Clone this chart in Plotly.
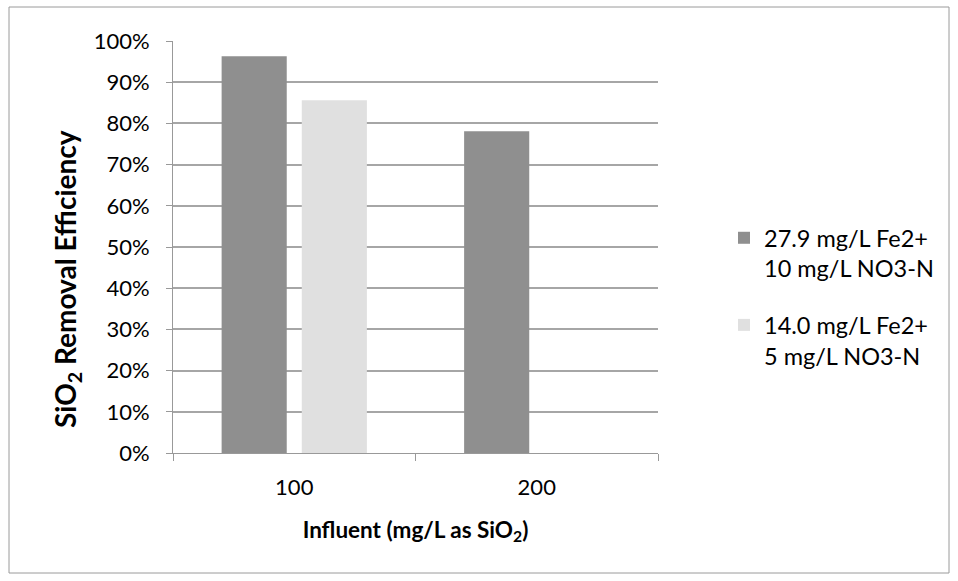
import plotly.graph_objects as go

categories = ["100", "200"]
series1_name = "27.9 mg/L Fe2+<br>10 mg/L NO3-N"
series1_values = [0.963, 0.781]
series2_name = "14.0 mg/L Fe2+<br>5 mg/L NO3-N"
series2_values = [0.856, None]
y_ticks = [0, 0.1, 0.2, 0.3, 0.4, 0.5, 0.6, 0.7, 0.8, 0.9, 1.0]

FONT = "Lato, 'Open Sans', 'Liberation Sans', sans-serif"

fig = go.Figure()
fig.add_trace(go.Bar(x=categories, y=series1_values, name=series1_name, legendgroup="a",
                     marker=dict(color="#8f8f8f", line=dict(width=0))))
fig.add_trace(go.Bar(x=categories, y=series2_values, name=series2_name, legendgroup="b",
                     marker=dict(color="#e0e0e0", line=dict(width=0))))

L, R, T, B = 173, 300, 41, 128
W, H = 958, 581
pw, ph = W - L - R, H - T - B

def px_x(p):
    return (p - L) / pw

def px_y(p):
    return (H - B - p) / ph

fig.update_layout(
    width=W, height=H,
    margin=dict(l=L, r=R, t=T, b=B, autoexpand=False),
    paper_bgcolor="white", plot_bgcolor="white",
    barmode="group", bargap=0.339, bargroupgap=0.1875,
    font=dict(family=FONT, size=22, color="#000000"),
    showlegend=True,
    legend=dict(x=px_x(724), y=px_y(216), xanchor="left", yanchor="top",
                font=dict(size=23.5), tracegroupgap=23, itemwidth=30, valign="top",
                bgcolor="rgba(0,0,0,0)"),
    xaxis=dict(type="category", tickson="boundaries", ticks="outside", ticklen=7,
               tickcolor="#999999", showline=True, linecolor="#999999", linewidth=1,
               showgrid=False, tickfont=dict(size=22), ticklabelstandoff=15,
               title=dict(text="<b>Influent (mg/L as SiO<sub>2</sub>)</b>",
                          font=dict(size=22.5), standoff=22)),
    yaxis=dict(range=[0, 1], tickvals=y_ticks, tickformat=".0%", ticks="outside",
               ticklen=6, tickcolor="#999999", showline=True, linecolor="#999999",
               linewidth=1, showgrid=True, gridcolor="#a6a6a6", gridwidth=1.5,
               zeroline=False, tickfont=dict(size=22), ticklabelstandoff=12,
               automargin=False),
    annotations=[dict(text="<b>SiO<sub>2</sub> Removal Efficiency</b>", textangle=-90,
                      xref="paper", yref="paper", x=px_x(67), y=px_y(279),
                      xanchor="center", yanchor="middle", showarrow=False,
                      font=dict(size=28))],
    shapes=[dict(type="rect", xref="paper", yref="paper",
                 x0=px_x(9), x1=px_x(949), y0=px_y(7), y1=px_y(573),
                 line=dict(color="#9a9a9a", width=1), layer="below")],
)

fig.write_html("out.html", config={"displayModeBar": False},
               post_script="document.body.style.margin='0';")
